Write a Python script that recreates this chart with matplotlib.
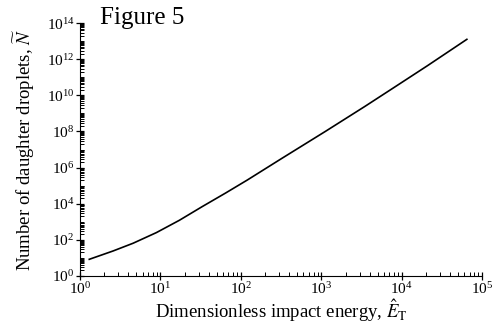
import matplotlib
matplotlib.use("Agg")
import matplotlib.pyplot as plt
from matplotlib.ticker import LogLocator, NullFormatter
import numpy as np

# values (log10 of energy, log10 of droplet count)
log_E = [0.115, 0.41, 0.66, 0.95, 1.235, 1.52, 1.81, 2.08, 2.51, 3.05, 3.54, 3.91, 4.32, 4.81]
log_N = [0.92, 1.38, 1.81, 2.40, 3.08, 3.84, 4.59, 5.31, 6.51, 8.00, 9.38, 10.45, 11.64, 13.10]

E = 10 ** np.array(log_E)
N = 10 ** np.array(log_N)

plt.rcParams['font.family'] = ['Liberation Serif', 'DejaVu Serif']
plt.rcParams['mathtext.fontset'] = 'stix'

fig = plt.figure(figsize=(4.94, 3.25), dpi=100)
ax = fig.add_axes([0.162, 0.151, 0.814, 0.778])

ax.plot(E, N, color='black', linewidth=1.2)

ax.set_xscale('log')
ax.set_yscale('log')
ax.set_xlim(1, 1e5)
ax.set_ylim(1, 1e14)

ax.xaxis.set_major_locator(LogLocator(base=10, numticks=10))
ax.xaxis.set_minor_locator(LogLocator(base=10, subs=np.arange(2, 10), numticks=20))
ax.yaxis.set_major_locator(LogLocator(base=100, numticks=10))
ax.yaxis.set_minor_locator(LogLocator(base=10, subs=np.arange(1, 10), numticks=30))
ax.xaxis.set_minor_formatter(NullFormatter())
ax.yaxis.set_minor_formatter(NullFormatter())

ax.spines['top'].set_visible(False)
ax.spines['right'].set_visible(False)
ax.tick_params(which='major', direction='inout', length=6, width=0.9, labelsize=11, pad=1)
ax.tick_params(which='minor', direction='in', length=3, width=0.7)

ax.set_xlabel(r'Dimensionless impact energy, $\hat{E}_{\mathrm{T}}$', fontsize=13.5, labelpad=0)
ax.set_ylabel(r'Number of daughter droplets, $\widetilde{N}$', fontsize=13.5, labelpad=7)
fig.text(0.203, 0.925, 'Figure 5', fontsize=18)

fig.savefig('out.png', dpi=100)
